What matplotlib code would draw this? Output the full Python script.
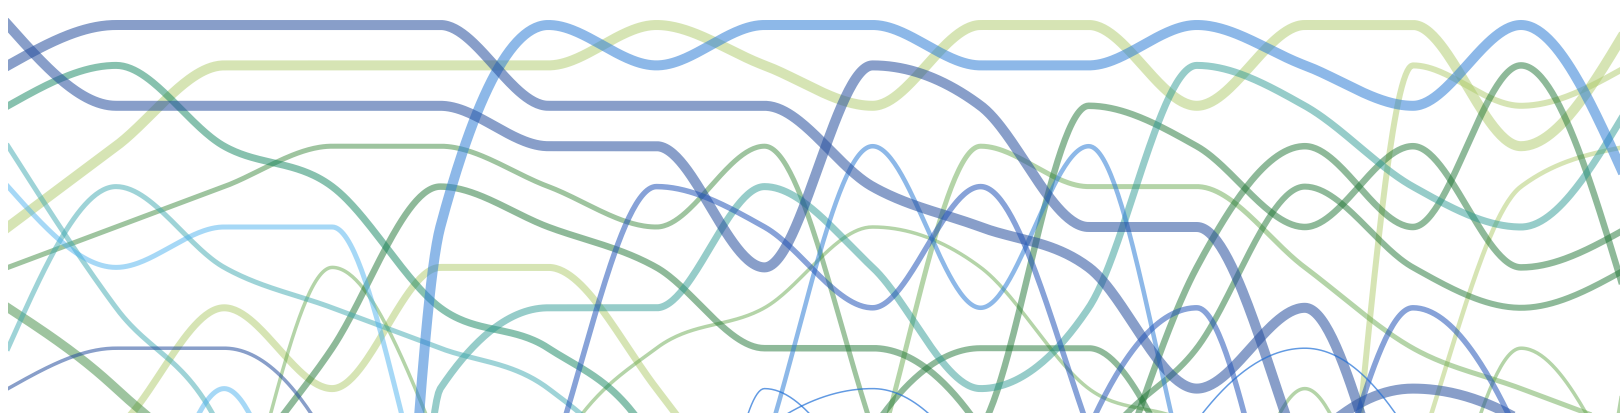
#!/usr/bin/env python3
"""
Bump chart of ranks over 16 time steps, smoothed like d3.curveMonotoneX.
Only ranks 1..10 are inside the picture; anything larger falls below the bottom edge.
"""

import numpy as np
import matplotlib
matplotlib.use("Agg")
import matplotlib.pyplot as plt

# time steps (the last one sits just past the right edge)
steps = [0, 1, 2, 3, 4, 5, 6, 7, 8, 9, 10, 11, 12, 13, 14, 15]

# rank of each series at each step
rank_q = [1, 3, 3, 3, 3, 4, 4, 7, 2, 3, 6, 6, 12, 20, 20, 20]
rank_a = [2, 1, 1, 1, 1, 3, 3, 3, 5, 6, 7, 10, 8, 14.5, 20, 20]
rank_db2 = [20, 20, 20, 20, 20, 20, 20, 20, 20, 20, 20, 20, 11.5, 10, 10.8, 20]
rank_dbm1 = [20, 20, 20, 20, 20, 12, 5, 6, 8, 5, 11, 20, 20, 20, 20, 20]
rank_dbm2 = [20, 20, 20, 20, 20, 20, 20, 20, 20, 20, 11, 8, 16, 20, 20, 20]
rank_dbm3 = [20, 20, 20, 20, 20, 20, 20, 20, 20, 20, 20, 20, 14.6, 8, 11.3, 20]
rank_dbthin = [10, 9, 9, 11.5, 20, 20, 20, 20, 20, 20, 20, 20, 20, 20, 20, 20]
rank_b = [40, 40, 40, 40, 6, 1, 2, 1, 1, 2, 2, 1, 2, 3, 1, 5]
rank_bm1 = [20, 20, 20, 20, 20, 20, 20, 11.5, 4, 8, 4, 13, 20, 20, 20, 20]
rank_bt1 = [20, 20, 20, 20, 20, 20, 20, 10, 13, 20, 20, 20, 20, 20, 20, 20]
rank_bt2 = [20, 20, 20, 20, 20, 20, 20, 11, 10, 12.3, 20, 20, 20, 20, 20, 20]
rank_bt3 = [20, 20, 20, 20, 20, 20, 20, 20, 20, 20, 20, 10.8, 9, 11.3, 20, 20]
rank_lb = [5, 7, 6, 6, 14, 20, 20, 20, 20, 20, 20, 20, 20, 20, 20, 20]
rank_lb2 = [20, 16, 10, 16, 20, 20, 20, 20, 20, 20, 20, 20, 20, 20, 20, 20]
rank_teal1 = [4, 8, 11.2, 20, 20, 20, 20, 20, 20, 20, 20, 20, 20, 20, 20, 20]
rank_t1b = [9, 5, 7, 8, 9, 10, 13, 20, 20, 20, 20, 20, 20, 20, 20, 20]
rank_t3 = [20, 20, 20, 20, 20, 20, 20, 20, 20, 20, 20, 20, 20, 20, 20, 10]
rank_teal2 = [60, 60, 60, 60, 10, 8, 8, 5, 7, 10, 8, 2, 3, 5, 6, 3]
rank_t2 = [3, 2, 4, 5, 8, 9, 11.5, 20, 20, 20, 20, 20, 20, 20, 20, 20]
rank_g1 = [7, 6, 5, 4, 4, 5, 6, 4, 11, 20, 20, 20, 20, 20, 20, 20]
rank_gthick = [8, 10, 13, 20, 20, 20, 20, 20, 20, 20, 20, 20, 20, 20, 20, 20]
rank_g3 = [20, 20, 13, 9, 5, 6, 7, 9, 9, 11, 20, 20, 20, 20, 20, 20]
rank_g5 = [20, 20, 20, 20, 20, 20, 20, 20, 11, 9, 9, 13, 20, 20, 20, 20]
rank_g6 = [20, 20, 20, 20, 20, 20, 20, 20, 13, 11, 3, 4, 6, 4, 7, 6]
rank_g7 = [20, 20, 20, 20, 20, 20, 20, 20, 20, 20, 14, 7, 4, 6, 2, 8]
rank_g8 = [20, 20, 20, 20, 20, 20, 20, 20, 20, 20, 12, 9, 5, 7, 8, 7]
rank_g2a = [20, 20, 14.5, 7, 11.5, 20, 20, 20, 20, 20, 20, 20, 20, 20, 20, 20]
rank_g2b = [20, 20, 20, 20, 20, 12, 9, 8, 6, 7, 10, 11, 20, 20, 20, 20]
rank_g2c = [20, 20, 20, 20, 20, 20, 20, 20, 20, 20, 20, 20, 20, 15.7, 9, 12.7]
rank_g2d = [20, 20, 20, 20, 20, 20, 20, 20, 20, 20, 20, 16, 10, 16, 20, 20]
rank_g9 = [20, 20, 20, 20, 20, 20, 20, 20, 20, 20, 20, 20, 20, 20, 20, 9]
rank_g4 = [20, 20, 20, 20, 20, 20, 20, 20, 12, 4, 5, 5, 7, 9, 10, 11]
rank_yg1 = [6, 4, 2, 2, 2, 2, 1, 2, 3, 1, 1, 3, 1, 1, 4, 1]
rank_yg2 = [12, 11, 8, 10, 7, 7, 10, 14, 20, 20, 20, 20, 20, 20, 20, 20]
rank_yg3 = [20, 20, 20, 20, 20, 20, 20, 20, 20, 20, 20, 20, 20, 2, 3, 2]
rank_yg4 = [20, 20, 20, 20, 20, 20, 20, 20, 20, 20, 20, 20, 20, 12, 5, 4]

# look of each family: base colour, alpha
styles = {
    'slate': ('#264f9e', 0.55),
    'slate2': ('#2456b8', 0.55),
    'blue': ('#2f7fd6', 0.55),
    'bluehair': ('#1f6fd6', 0.7),
    'sky': ('#4fb3ef', 0.5),
    'teal': ('#3fa9b0', 0.5),
    'teal2': ('#2e9a94', 0.5),
    'tealgreen': ('#11845f', 0.5),
    'green': ('#1f7535', 0.5),
    'green2': ('#3e8a40', 0.5),
    'pale': ('#6aaa52', 0.5),
    'yg': ('#aecb6a', 0.5),
}

# (ranks, style, width in px)
series = [
    (rank_yg1, 'yg', 10), (rank_yg2, 'yg', 7), (rank_yg3, 'yg', 6), (rank_yg4, 'yg', 4.5),
    (rank_g4, 'pale', 5), (rank_g2a, 'pale', 3.5), (rank_g2b, 'pale', 3.5),
    (rank_g2c, 'pale', 3.5), (rank_g2d, 'pale', 3.5), (rank_g9, 'pale', 3.5),
    (rank_g1, 'green2', 5), (rank_gthick, 'green2', 9),
    (rank_g3, 'green', 6.5), (rank_g5, 'green', 6), (rank_g6, 'green', 6.5),
    (rank_g7, 'green', 6.5), (rank_g8, 'green', 6),
    (rank_t2, 'tealgreen', 7), (rank_teal2, 'teal2', 7),
    (rank_teal1, 'teal', 5), (rank_t1b, 'teal', 5), (rank_t3, 'teal', 5),
    (rank_lb, 'sky', 5), (rank_lb2, 'sky', 5),
    (rank_b, 'blue', 10), (rank_bm1, 'blue', 4.5),
    (rank_q, 'slate', 10), (rank_a, 'slate', 10), (rank_db2, 'slate', 10),
    (rank_dbm1, 'slate2', 5.5), (rank_dbm2, 'slate2', 5.5), (rank_dbm3, 'slate2', 5.5),
    (rank_dbthin, 'slate', 3.5),
    (rank_bt1, 'bluehair', 1.5), (rank_bt2, 'bluehair', 1.5), (rank_bt3, 'bluehair', 1.5),
]


def monotone_x(xs, ys, n=60):
    """Sample a d3.curveMonotoneX path through the points"""
    xs = np.asarray(xs, float)
    ys = np.asarray(ys, float)
    h = np.diff(xs)
    s = np.diff(ys) / h
    t = np.zeros(len(xs))
    for i in range(1, len(xs) - 1):
        p = (s[i - 1] * h[i] + s[i] * h[i - 1]) / (h[i - 1] + h[i])
        t[i] = (np.sign(s[i - 1]) + np.sign(s[i])) * min(abs(s[i - 1]), abs(s[i]), 0.5 * abs(p))
    t[0] = (3 * s[0] - t[1]) / 2
    t[-1] = (3 * s[-1] - t[-2]) / 2

    px, py = [], []
    for i in range(len(xs) - 1):
        u = np.linspace(0, 1, n)
        h00 = 2 * u**3 - 3 * u**2 + 1
        h10 = u**3 - 2 * u**2 + u
        h01 = -2 * u**3 + 3 * u**2
        h11 = u**3 - u**2
        seg_y = h00 * ys[i] + h10 * h[i] * t[i] + h01 * ys[i + 1] + h11 * h[i] * t[i + 1]
        seg_x = xs[i] + u * h[i]
        if i > 0:
            seg_x, seg_y = seg_x[1:], seg_y[1:]
        px.append(seg_x)
        py.append(seg_y)
    return np.concatenate(px), np.concatenate(py)


W, H, DPI = 1620, 414, 100
fig = plt.figure(figsize=(W / DPI, H / DPI), dpi=DPI)

# plot area starts 8 px in from the left, so line ends get cut off square there
x0 = 8
ax = fig.add_axes([x0 / W, 0, 1 - x0 / W, 1])
ax.set_axis_off()

# step 0 at the left edge of the plot area, 108.07 px per step; rank 1 at y=26, 40.4 px per rank
col_w = 108.07
row_h, y0 = 40.4, 26
ax.set_xlim(0, (W - x0) / col_w)
ax.set_ylim(1 + (H - y0) / row_h, 1 - y0 / row_h)

px_to_pt = 72 / DPI
for ranks, style, width in series:
    color, alpha = styles[style]
    cx, cy = monotone_x(steps, ranks)
    ax.plot(cx, cy, color=color, alpha=alpha, linewidth=width * px_to_pt,
            solid_capstyle='projecting', solid_joinstyle='round')

fig.savefig('out.png', dpi=DPI, facecolor='white')
